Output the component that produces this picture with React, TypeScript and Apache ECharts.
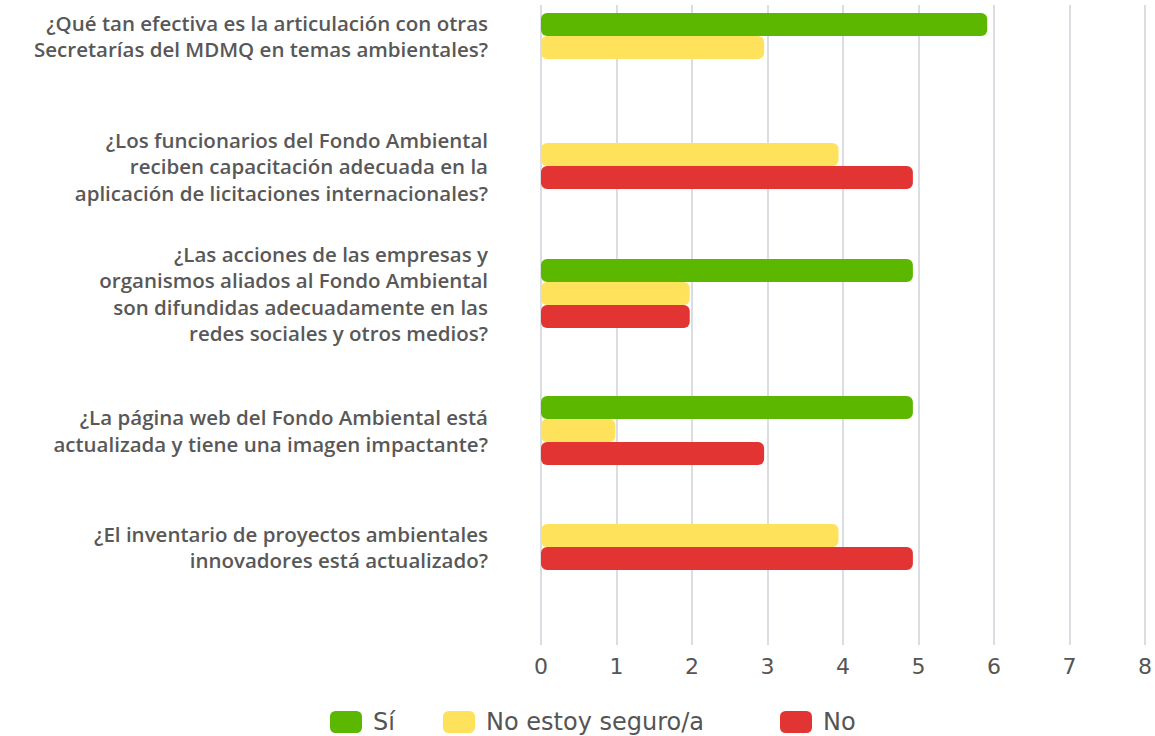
import React, { useEffect, useRef } from "react";
import * as echarts from "echarts";

const categories = [
  "¿Qué tan efectiva es la articulación con otras\nSecretarías del MDMQ en temas ambientales?",
  "¿Los funcionarios del Fondo Ambiental\nreciben capacitación adecuada en la\naplicación de licitaciones internacionales?",
  "¿Las acciones de las empresas y\norganismos aliados al Fondo Ambiental\nson difundidas adecuadamente en las\nredes sociales y otros medios?",
  "¿La página web del Fondo Ambiental está\nactualizada y tiene una imagen impactante?",
  "¿El inventario de proyectos ambientales\ninnovadores está actualizado?",
];
const seriesNames = ["Sí", "No estoy seguro/a", "No"];
const siValues = [6, 0, 5, 5, 0];
const noSeguroValues = [3, 4, 2, 1, 4];
const noValues = [0, 5, 2, 3, 5];
const xMin = 0;
const xMax = 8;
const xInterval = 1;

const seriesValues = [siValues, noSeguroValues, noValues];
const colors = ["#5cb700", "#ffe25c", "#e33434"];

// layout (pixels)
const groupTops = [13, 143, 259, 396, 524];
const barH = 23;
const legendLefts = [325, 438, 775];
const FONT = "'DejaVu Sans', sans-serif";
const LABEL_FONT = "'Open Sans', sans-serif";

export default function App() {
  const ref = useRef<HTMLDivElement>(null);
  useEffect(() => {
    document.body.style.margin = "0";
    if (!ref.current) return;
    const chart = echarts.init(ref.current, undefined, { renderer: "svg" });

    const grids: any[] = [{ left: 541, right: 9, top: 5, bottom: 91 }];
    const xAxes: any[] = [
      {
        type: "value",
        gridIndex: 0,
        min: xMin,
        max: xMax,
        interval: xInterval,
        axisLine: { show: false },
        axisTick: { show: false },
        axisLabel: { fontSize: 22, color: "#555", fontFamily: FONT, margin: 10 },
        splitLine: { show: true, lineStyle: { color: "#dcdde2", width: 2 } },
      },
    ];
    const yAxes: any[] = [{ type: "value", gridIndex: 0, show: false }];
    const series: any[] = [];

    categories.forEach((cat, i) => {
      const present = seriesValues
        .map((vals, s) => ({ s, v: vals[i] }))
        .filter((d) => d.v > 0);
      const gi = i + 1;
      grids.push({ left: 541, right: 19, top: groupTops[i], height: present.length * barH });
      xAxes.push({ type: "value", gridIndex: gi, min: xMin, max: xMax, show: false });
      yAxes.push({
        type: "category",
        gridIndex: gi,
        data: [cat],
        inverse: true,
        axisLine: { show: false },
        axisTick: { show: false },
        splitLine: { show: false },
        axisLabel: {
          fontSize: 20.5,
          fontWeight: 600,
          color: "#585858",
          fontFamily: LABEL_FONT,
          lineHeight: 26.5,
          margin: 53,
          align: "right",
        },
      });
      present.forEach(({ s, v }) => {
        series.push({
          type: "bar",
          name: seriesNames[s],
          xAxisIndex: gi,
          yAxisIndex: gi,
          data: [v],
          barWidth: barH,
          barGap: "0%",
          barCategoryGap: "0%",
          itemStyle: { color: colors[s], borderRadius: 6 },
        });
      });
    });

    const legends = seriesNames.map((n, s) => ({
      data: [n],
      left: legendLefts[s],
      top: 705,
      itemWidth: 32,
      itemHeight: 22,
      icon: "roundRect",
      textStyle: { fontSize: 24, color: "#555", fontFamily: FONT, padding: [0, 0, 0, 6] },
    }));

    chart.setOption({
      animation: false,
      color: colors,
      grid: grids,
      xAxis: xAxes,
      yAxis: yAxes,
      legend: legends,
      series,
    });
    return () => chart.dispose();
  }, []);
  return <div ref={ref} style={{ width: 1155, height: 736 }} />;
}
